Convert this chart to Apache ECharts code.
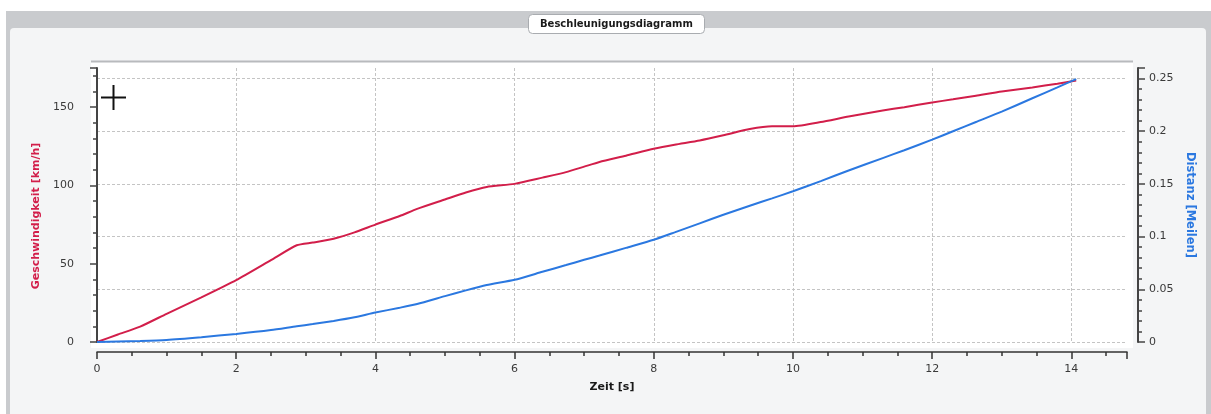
<!DOCTYPE html>
<html>
<head>
<meta charset="utf-8">
<title>Beschleunigungsdiagramm</title>
<script src="https://cdn.jsdelivr.net/npm/echarts@6/dist/echarts.min.js"></script>
<style>
  html, body { margin: 0; padding: 0; background: #ffffff; }
  #chart { width: 1211px; height: 414px; }
</style>
</head>
<body>
<div id="chart"></div>
<script>
// Messzeitpunkte [s]
const zeit = [0, 0.3, 0.62, 1.0, 1.5, 2.0, 2.5, 2.87, 3.1, 3.4, 3.7, 4.0, 4.35, 4.6, 5.0, 5.3, 5.6, 6.0,
  6.4, 6.74, 7.0, 7.22, 7.6, 8.0, 8.3, 8.66, 9.0, 9.38, 9.7, 10.0, 10.4, 10.8, 11.29, 11.6, 12.0,
  12.3, 12.63, 13.0, 13.44, 13.8, 14.07];
// Geschwindigkeit [km/h]
const geschwindigkeit = [0, 4.8, 9.8, 18, 28.5, 39.5, 52.3, 61.8, 63.5, 66, 70, 75, 80.5, 85, 91, 95.5, 99, 101,
  105, 108.5, 112, 115, 119, 123.4, 126, 128.7, 132, 136, 137.8, 137.8, 140.5, 144, 147.8, 150, 153,
  155, 157.3, 160, 162.6, 165, 167];
// Zurückgelegte Distanz [Meilen]
const distanz = [0, 0.0005, 0.001, 0.002, 0.0046, 0.0076, 0.0113, 0.015, 0.017, 0.020, 0.0235, 0.028, 0.0325,
  0.036, 0.0435, 0.049, 0.054, 0.059, 0.0666, 0.073, 0.078, 0.082, 0.0893, 0.097, 0.104, 0.1126, 0.1207,
  0.1293, 0.1363, 0.143, 0.1527, 0.1627, 0.1745, 0.182, 0.192, 0.200, 0.2088, 0.2186, 0.2313, 0.2416, 0.2495];

const titel = 'Beschleunigungsdiagramm';
const xName = 'Zeit [s]';
const yLinksName = 'Geschwindigkeit [km/h]';
const yRechtsName = 'Distanz [Meilen]';

const ROT = '#d21e4a';
const BLAU = '#2b78e0';
const FONT = 'DejaVu Sans';

const chart = echarts.init(document.getElementById('chart'), null, { renderer: 'canvas' });

const gridLeft = 97, gridRight = 84, gridTop = 68, gridBottom = 72;

const tickLabel = { color: '#3a3a3a', fontFamily: FONT, fontSize: 11 };
const dashed = { show: true, lineStyle: { color: '#c4c4c4', type: [3, 2], width: 1 } };

chart.setOption({
  backgroundColor: '#ffffff',
  animation: false,
  title: {
    text: titel,
    left: 528,
    top: 14,
    padding: [5, 12, 5, 12],
    backgroundColor: '#ffffff',
    borderColor: '#a9acb0',
    borderWidth: 1,
    borderRadius: 4,
    textStyle: { fontFamily: FONT, fontSize: 10, fontWeight: 'bold', color: '#1a1a1a' }
  },
  graphic: [
    // Rahmen und Panel
    { type: 'rect', z: -10, silent: true, shape: { x: 6, y: 11, width: 1205, height: 403 },
      style: { fill: '#c9cbce' } },
    { type: 'rect', z: -9, silent: true, shape: { x: 10, y: 28, width: 1196, height: 386, r: [4, 4, 0, 0] },
      style: { fill: '#f4f5f6' } },
    // Zeichenfläche
    { type: 'rect', z: -8, silent: true, shape: { x: 91, y: 61, width: 1042, height: 287 },
      style: { fill: '#ffffff' } },
    { type: 'line', z: -7, silent: true, shape: { x1: 91, y1: 61.5, x2: 1133, y2: 61.5 },
      style: { stroke: '#b8babd', lineWidth: 2 } },
    // Fadenkreuz-Cursor
    { type: 'line', z: 20, silent: true, shape: { x1: 101, y1: 97.5, x2: 126, y2: 97.5 },
      style: { stroke: '#111', lineWidth: 2 } },
    { type: 'line', z: 20, silent: true, shape: { x1: 113.5, y1: 85, x2: 113.5, y2: 110 },
      style: { stroke: '#111', lineWidth: 2 } }
  ],
  grid: { left: gridLeft, right: gridRight, top: gridTop, bottom: gridBottom, containLabel: false },
  xAxis: {
    type: 'value',
    min: 0, max: 14.8, interval: 2,
    offset: 10,
    name: xName,
    nameLocation: 'middle',
    nameGap: 30,
    nameTextStyle: { fontFamily: FONT, fontSize: 11, fontWeight: 'bold', color: '#1a1a1a' },
    axisLine: { show: true, onZero: false, lineStyle: { color: '#333', width: 1.5 } },
    axisTick: { show: true, inside: false, length: 7, lineStyle: { color: '#333', width: 1.5 } },
    minorTick: { show: true, splitNumber: 4, length: 4, lineStyle: { color: '#333', width: 1.5 } },
    axisLabel: Object.assign({ margin: 12, showMaxLabel: false }, tickLabel),
    splitLine: Object.assign({ showMaxLine: false }, dashed)
  },
  yAxis: [
    {
      type: 'value',
      position: 'left',
      min: 0, max: 175, interval: 50,
      offset: 9,
      name: yLinksName,
      nameLocation: 'middle',
      nameGap: 44,
      nameRotate: 90,
      nameTextStyle: { fontFamily: FONT, fontSize: 11, fontWeight: 'bold', color: ROT, padding: [0, 22, 0, 0] },
      axisLine: { show: true, lineStyle: { color: '#444', width: 2 } },
      axisTick: { show: true, inside: false, length: 7, lineStyle: { color: '#444', width: 1.5 } },
      minorTick: { show: true, splitNumber: 5, length: 4, lineStyle: { color: '#444', width: 1.5 } },
      axisLabel: Object.assign({ margin: 14, showMaxLabel: false }, tickLabel),
      splitLine: { show: false }
    },
    {
      type: 'value',
      position: 'right',
      min: 0, max: 0.26, interval: 0.05,
      offset: 11,
      name: yRechtsName,
      nameLocation: 'middle',
      nameGap: 46,
      nameRotate: -90,
      nameTextStyle: { fontFamily: FONT, fontSize: 11.5, fontWeight: 'bold', color: BLAU },
      axisLine: { show: true, lineStyle: { color: '#444', width: 2 } },
      axisTick: { show: true, inside: false, length: 7, lineStyle: { color: '#444', width: 1.5 } },
      minorTick: { show: true, splitNumber: 5, length: 4, lineStyle: { color: '#444', width: 1.5 } },
      axisLabel: Object.assign({ margin: 11, showMaxLabel: false,
        formatter: v => String(Math.round(v * 100) / 100) }, tickLabel),
      splitLine: Object.assign({ showMaxLine: false }, dashed)
    }
  ],
  series: [
    {
      name: yLinksName,
      type: 'line',
      yAxisIndex: 0,
      data: zeit.map((t, i) => [t, geschwindigkeit[i]]),
      showSymbol: false,
      smooth: 0.2,
      lineStyle: { color: ROT, width: 2 },
      z: 3
    },
    {
      name: yRechtsName,
      type: 'line',
      yAxisIndex: 1,
      data: zeit.map((t, i) => [t, distanz[i]]),
      showSymbol: false,
      smooth: 0.2,
      lineStyle: { color: BLAU, width: 2 },
      z: 4
    }
  ]
});
</script>
</body>
</html>
